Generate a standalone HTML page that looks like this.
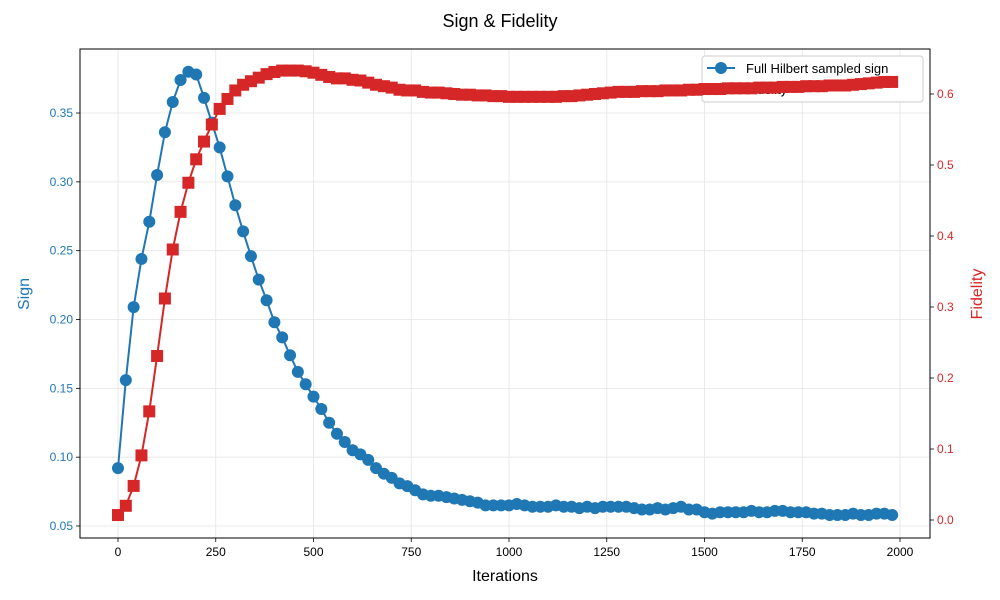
<!DOCTYPE html>
<html><head><meta charset="utf-8"><style>
body{margin:0;background:#fff;}
svg{display:block;font-family:"Liberation Sans","DejaVu Sans",sans-serif;}
</style></head><body>
<svg id="chart" width="1000" height="600"></svg>
<script>
const iterations=[];for(let i=0;i<100;i++)iterations.push(i*20);
const signValues=[0.092,0.156,0.209,0.244,0.271,0.305,0.336,0.358,0.374,0.380,0.378,0.361,0.343,0.325,0.304,0.283,0.264,0.246,0.229,0.214,0.198,0.187,0.174,0.162,0.153,0.144,0.135,0.125,0.117,0.111,0.105,0.102,0.098,0.092,0.088,0.085,0.081,0.079,0.076,0.073,0.072,0.072,0.071,0.070,0.069,0.068,0.067,0.065,0.065,0.065,0.065,0.066,0.065,0.064,0.064,0.064,0.065,0.064,0.064,0.063,0.064,0.063,0.064,0.064,0.064,0.064,0.063,0.062,0.062,0.063,0.062,0.063,0.064,0.062,0.062,0.060,0.059,0.060,0.060,0.060,0.060,0.061,0.060,0.060,0.061,0.061,0.060,0.060,0.060,0.059,0.059,0.058,0.058,0.058,0.059,0.058,0.058,0.059,0.059,0.058];
const fidelityValues=[0.007,0.020,0.048,0.091,0.153,0.231,0.312,0.381,0.434,0.475,0.508,0.533,0.557,0.579,0.593,0.605,0.613,0.618,0.623,0.628,0.631,0.633,0.633,0.633,0.632,0.630,0.627,0.624,0.622,0.622,0.620,0.619,0.616,0.613,0.611,0.609,0.606,0.605,0.605,0.603,0.602,0.602,0.601,0.600,0.599,0.599,0.598,0.598,0.597,0.597,0.596,0.596,0.596,0.596,0.596,0.596,0.596,0.597,0.597,0.598,0.599,0.600,0.601,0.602,0.603,0.603,0.603,0.604,0.604,0.604,0.605,0.605,0.605,0.606,0.606,0.607,0.607,0.607,0.608,0.608,0.608,0.608,0.609,0.609,0.609,0.610,0.610,0.610,0.611,0.611,0.611,0.612,0.612,0.612,0.613,0.614,0.615,0.616,0.617,0.617];
const xTicks=[0,250,500,750,1000,1250,1500,1750,2000];
const signTicks=[0.05,0.10,0.15,0.20,0.25,0.30,0.35];
const fidTicks=[0.0,0.1,0.2,0.3,0.4,0.5,0.6];

const L=80,R=930,T=49,B=538;
const xS=v=>118+v*0.391;
const yS=v=>526-(v-0.05)/0.05*68.83;
const yF=v=>520-v*710;
const NS='http://www.w3.org/2000/svg';
const svg=document.getElementById('chart');
function mk(tag,attrs,parent){const e=document.createElementNS(NS,tag);for(const k in attrs)e.setAttribute(k,attrs[k]);(parent||svg).appendChild(e);return e;}
function txt(s,attrs){const e=mk('text',attrs);e.textContent=s;return e;}

const grid=mk('g',{});


xTicks.forEach(t=>{mk('line',{x1:xS(t),x2:xS(t),y1:T,y2:B,stroke:'#e5e5e5','stroke-width':0.8},grid);});
signTicks.forEach(t=>{mk('line',{x1:L,x2:R,y1:yS(t),y2:yS(t),stroke:'#e5e5e5','stroke-width':0.8},grid);});

xTicks.forEach(t=>{
 mk('line',{x1:xS(t),x2:xS(t),y1:B,y2:B+4,stroke:'#000','stroke-width':0.8});
 const e=txt(String(t),{x:xS(t),y:B+18,'text-anchor':'middle','font-size':12,fill:'#000'});
 
 
});
signTicks.forEach(t=>{
 mk('line',{x1:L-4,x2:L,y1:yS(t),y2:yS(t),stroke:'#000','stroke-width':0.8});
 const e=txt(t.toFixed(2),{x:L-7,y:yS(t)+4,'text-anchor':'end','font-size':12,fill:'#1f77b4'});
 
 
});
fidTicks.forEach(t=>{
 mk('line',{x1:R,x2:R+4,y1:yF(t),y2:yF(t),stroke:'#000','stroke-width':0.8});
 const e=txt(t.toFixed(1),{x:R+7,y:yF(t)+4,'text-anchor':'start','font-size':12,fill:'#d62728'});
 
 
});

const sg=mk('g',{});


mk('polyline',{points:iterations.map((x,i)=>xS(x)+','+yS(signValues[i])).join(' '),fill:'none',stroke:'#1f77b4','stroke-width':2},sg);
iterations.forEach((x,i)=>{const c=mk('circle',{cx:xS(x),cy:yS(signValues[i]),r:6,fill:'#1f77b4'},sg);
 
 });

const lg=mk('g',{});


mk('rect',{x:702,y:56,width:221,height:46,rx:3,fill:'#fff',stroke:'#ccc','stroke-width':1},lg);
mk('line',{x1:707,x2:735,y1:68,y2:68,stroke:'#1f77b4','stroke-width':2},lg);
mk('circle',{cx:721,cy:68,r:6,fill:'#1f77b4'},lg);
const lt=txt('Full Hilbert sampled sign',{x:746,y:73,'font-size':13,fill:'#000'});
lg.appendChild(lt);
mk('line',{x1:707,x2:735,y1:89,y2:89,stroke:'#d62728','stroke-width':2},lg);
const lt2=txt('Fidelity',{x:746,y:94,'font-size':13,fill:'#000'});
lg.appendChild(lt2);

const fg=mk('g',{});


mk('polyline',{points:iterations.map((x,i)=>xS(x)+','+yF(fidelityValues[i])).join(' '),fill:'none',stroke:'#d62728','stroke-width':2},fg);
iterations.forEach((x,i)=>{const r=mk('rect',{x:xS(x)-6,y:yF(fidelityValues[i])-6,width:12,height:12,fill:'#d62728'},fg);
 
 });

const fr=mk('rect',{x:L,y:T,width:R-L,height:B-T,fill:'none',stroke:'#000','stroke-width':1});



const title=txt('Sign & Fidelity',{x:500,y:27,'text-anchor':'middle','font-size':18,fill:'#000'});


const xl=txt('Iterations',{x:505,y:581,'text-anchor':'middle','font-size':16,fill:'#000'});


const yl=txt('Sign',{x:0,y:0,'text-anchor':'middle','font-size':16,fill:'#1f77b4',transform:'translate(29,294) rotate(-90)'});


const yr=txt('Fidelity',{x:0,y:0,'text-anchor':'middle','font-size':16,fill:'#d62728',transform:'translate(982,294) rotate(-90)'});


</script>
</body></html>
